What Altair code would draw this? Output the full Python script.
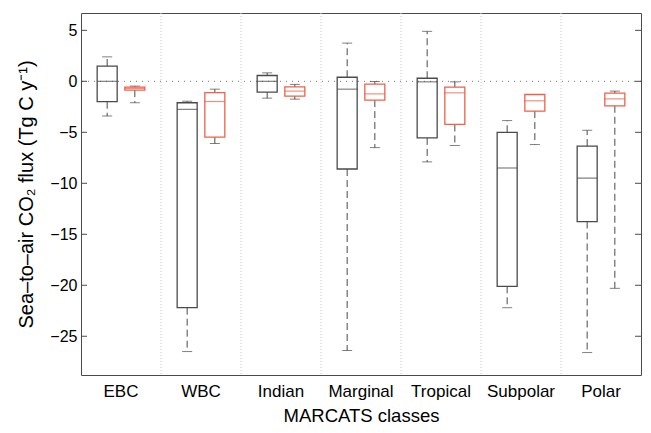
import altair as alt
import pandas as pd

categories = ["EBC", "WBC", "Indian", "Marginal", "Tropical", "Subpolar", "Polar"]

# series A (black/grey boxes)
a_hi  = [2.4, -1.95, 0.83, 3.75, 4.9, -3.85, -4.8]
a_q3  = [1.5, -2.1, 0.57, 0.4, 0.3, -5.0, -6.35]
a_med = [0.0, -2.75, 0.0, -0.77, -0.05, -8.5, -9.5]
a_q1  = [-2.0, -22.2, -1.06, -8.6, -5.55, -20.1, -13.75]
a_lo  = [-3.4, -26.5, -1.65, -26.4, -7.9, -22.2, -26.6]

# series B (red boxes)
b_hi  = [-0.47, -0.77, -0.3, -0.02, -0.05, -1.29, -0.96]
b_q3  = [-0.57, -1.1, -0.54, -0.28, -0.57, -1.29, -1.16]
b_med = [-0.7, -1.98, -0.96, -1.23, -1.13, -1.91, -1.72]
b_q1  = [-0.86, -5.47, -1.45, -1.84, -4.23, -2.92, -2.4]
b_lo  = [-2.1, -6.1, -1.75, -6.5, -6.29, -6.2, -20.3]

y_ticks = [-25, -20, -15, -10, -5, 0, 5]
y_domain = [-28.8, 6.7]

rows = []
for i, c in enumerate(categories):
    rows.append(dict(cat=c, s="a", hi=a_hi[i], q3=a_q3[i], med=a_med[i], q1=a_q1[i], lo=a_lo[i]))
    rows.append(dict(cat=c, s="b", hi=b_hi[i], q3=b_q3[i], med=b_med[i], q1=b_q1[i], lo=b_lo[i]))
df = pd.DataFrame(rows)

W, H = 560, 362
FONT = "Liberation Sans"
GREY = "#4a4a4a"
RED = "#f0604a"

xs = alt.Scale(domain=categories, paddingInner=0, paddingOuter=0)
ys = alt.Scale(domain=y_domain, nice=False, zero=False)
offs = alt.Scale(domain=["a", "b"], paddingInner=0, paddingOuter=0.446)
col = alt.Scale(domain=["a", "b"], range=[GREY, RED])

xaxis = alt.Axis(title="MARCATS classes", labelAngle=0, ticks=False, tickSize=0, domain=False, grid=False,
                 labelFontSize=17, titleFontSize=18.5, labelPadding=8, titlePadding=7.5,
                 labelColor="#000", titleColor="#000", titleFontWeight="normal",
                 labelFont=FONT, titleFont=FONT)
X = alt.X("cat:N", scale=xs, sort=categories, axis=xaxis)
XO = alt.XOffset("s:N", scale=offs)

base = alt.Chart(df)

yaxis = alt.Axis(title="Sea–to–air CO₂ flux (Tg C y⁻¹)", values=y_ticks, ticks=False, tickSize=0,
                 domain=False, grid=False, labelFontSize=16, titleFontSize=20, labelPadding=4,
                 titlePadding=13, labelColor="#000", titleColor="#000", titleFontWeight="normal",
                 labelFont=FONT, titleFont=FONT)

# separators
sep_df = pd.DataFrame({"cat": categories[1:]})
seps = alt.Chart(sep_df).mark_rule(color="#c8c8c8", strokeDash=[1, 2], strokeWidth=1).encode(
    x=alt.X("cat:N", scale=xs, sort=categories, bandPosition=0, axis=xaxis)
)

zero_df = pd.DataFrame({"v": [0]})
zero = alt.Chart(zero_df).mark_rule(color="#777", strokeDash=[1, 5], strokeWidth=1).encode(
    y=alt.Y("v:Q", scale=ys, axis=yaxis)
)

tick_df = pd.DataFrame({"v": y_ticks})
lticks = alt.Chart(tick_df).mark_rule(color=GREY).encode(
    y=alt.Y("v:Q", scale=ys), x=alt.value(0), x2=alt.value(6))
rticks = alt.Chart(tick_df).mark_rule(color=GREY).encode(
    y=alt.Y("v:Q", scale=ys), x=alt.value(W - 6), x2=alt.value(W))

wh_up = base.mark_rule(color=GREY, strokeDash=[7, 4], strokeWidth=1).encode(
    x=X, xOffset=XO, y=alt.Y("q3:Q", scale=ys), y2="hi:Q")
wh_dn = base.mark_rule(color=GREY, strokeDash=[7, 4], strokeWidth=1).encode(
    x=X, xOffset=XO, y=alt.Y("q1:Q", scale=ys), y2="lo:Q")
cap_hi = base.mark_tick(color=GREY, size=10, thickness=1, orient="horizontal").encode(
    x=X, xOffset=XO, y=alt.Y("hi:Q", scale=ys))
cap_lo = base.mark_tick(color=GREY, size=10, thickness=1, orient="horizontal").encode(
    x=X, xOffset=XO, y=alt.Y("lo:Q", scale=ys))
box = base.mark_bar(width=20, fill="white", fillOpacity=0, strokeWidth=1.3).encode(
    x=X, xOffset=XO, y=alt.Y("q1:Q", scale=ys), y2="q3:Q",
    stroke=alt.Stroke("s:N", scale=col, legend=None))
med = base.mark_tick(size=20, thickness=1.2, orient="horizontal").encode(
    x=X, xOffset=XO, y=alt.Y("med:Q", scale=ys),
    color=alt.Color("s:N", scale=col, legend=None))

chart = alt.layer(seps, zero, lticks, rticks, wh_up, wh_dn, cap_hi, cap_lo, box, med).properties(
    width=W, height=H,
    padding={"left": 8, "top": 4, "right": 0, "bottom": 0},
    background="white",
).configure_view(stroke=GREY, strokeWidth=1).configure_axis(labelFont=FONT, titleFont=FONT)

chart.save("out.html", embed_options={"renderer": "svg", "actions": False})
